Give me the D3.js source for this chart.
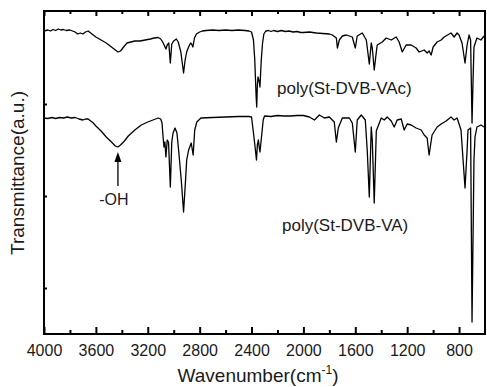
<!DOCTYPE html>
<html>
<head>
<meta charset="utf-8">
<script src="https://cdn.jsdelivr.net/npm/d3@7"></script>
<style>
  html, body { margin: 0; padding: 0; background: #fff; }
  svg { display: block; font-family: "Liberation Sans", Arial, sans-serif; }
</style>
</head>
<body>
<svg id="chart" width="487" height="387"></svg>
<script>
// wavenumber (cm-1) / transmittance (a.u.)
const vacWave = [4000, 3970, 3950, 3930, 3910, 3890, 3870, 3850, 3830, 3800, 3780, 3760, 3740, 3720, 3700, 3680, 3660, 3640, 3620, 3600,
  3560, 3520, 3480, 3450, 3430, 3410, 3380, 3360, 3330, 3300, 3260, 3220, 3180, 3150, 3120, 3100, 3085, 3070, 3060, 3050,
  3038, 3026, 3015, 3000, 2980, 2965, 2945, 2935, 2924, 2912, 2900, 2885, 2870, 2862, 2852, 2840, 2825, 2800, 2780, 2750,
  2700, 2650, 2600, 2550, 2500, 2450, 2420, 2400, 2385, 2375, 2365, 2360, 2355, 2350, 2340, 2335, 2325, 2315, 2305, 2290,
  2270, 2250, 2230, 2200, 2170, 2140, 2110, 2080, 2050, 2020, 2000, 1954, 1900, 1850, 1800, 1777, 1746, 1738, 1723, 1700,
  1669, 1623, 1600, 1585, 1546, 1515, 1492, 1477, 1469, 1454, 1438, 1431,
  1392, 1362, 1323, 1285, 1262, 1238, 1208, 1169, 1131, 1108, 1069, 1046, 1031, 1015, 1000, 969, 938, 915, 862, 838, 815, 800,
  777, 754, 738, 723, 711, 700, 692, 685, 662, 631, 608];
const vacT = [303, 304, 303, 304.5, 303.5, 305, 304, 304.5, 303.5, 304, 303, 302, 300, 301, 300, 302, 303, 301, 299, 297,
  294, 291, 287, 284, 282, 283, 288, 291, 292, 293, 293, 294, 295, 296, 296.5, 295, 292, 288, 285, 289,
  291, 271, 290, 293, 295, 292, 282, 272, 261, 274, 282, 287, 291, 290, 287, 296, 300, 302, 303, 303.5,
  304, 303.5, 304, 303.5, 304, 303.5, 303, 302, 294, 274, 239, 227, 249, 257, 252, 247, 274, 291, 300, 303,
  303.5, 302.5, 303.5, 302.5, 303.5, 302.5, 303, 302, 302.5, 301.5, 301.5, 302, 301, 300.5, 300, 299, 296, 286, 294, 298,
  299, 297, 286, 298, 301, 294, 270, 291, 286, 264, 282, 289,
  292, 296, 294, 297, 292, 282, 289, 289, 286, 282, 284, 281, 283, 279, 287, 292, 294, 297, 301, 297, 301, 299,
  291, 271, 289, 299, 294, 211, 254, 287, 296, 294, 298];

const vaWave = [4000, 3970, 3940, 3910, 3880, 3850, 3820, 3790, 3760, 3730, 3700, 3680, 3660, 3640, 3620, 3600, 3560, 3520, 3480, 3450,
  3430, 3410, 3380, 3350, 3300, 3250, 3200, 3160, 3120, 3100, 3090, 3082, 3075, 3068, 3060, 3050, 3040, 3026, 3015, 3005,
  2990, 2975, 2960, 2940, 2924, 2910, 2900, 2885, 2865, 2850, 2838, 2822, 2790, 2700, 2600, 2500, 2420, 2400, 2385, 2370,
  2362, 2355, 2347, 2340, 2335, 2320, 2310, 2300, 2250, 2200, 2150, 2100, 2050, 2000, 1954, 1915, 1877, 1838, 1800, 1762,
  1746, 1731, 1700, 1646, 1623, 1600, 1585, 1554, 1523, 1508, 1492, 1477, 1469, 1454,
  1438, 1400, 1377, 1354, 1323, 1300, 1277, 1246, 1223, 1200, 1169, 1131, 1092, 1069, 1046, 1031, 1008, 969, 938, 900, 862, 838, 815,
  785, 769, 754, 738, 731, 711, 700, 685, 677, 662, 631, 608];
const vaT = [216, 215.5, 216.5, 215.5, 216.5, 216, 217, 216, 216.5, 215, 214, 215, 215, 213, 211, 208, 203, 197, 192, 188,
  187, 189, 193, 198, 204, 209, 212, 214, 216, 215, 211, 197, 187, 192, 177, 194, 192, 147, 192, 201,
  206, 201, 181, 151, 122, 151, 174, 184, 191, 179, 204, 212, 216, 216.5, 217, 217.5, 217.5, 217, 201, 184,
  174, 189, 194, 186, 182, 201, 214, 218, 217.5, 218.5, 218, 218, 218.5, 218.5, 217, 214, 219, 216, 217, 212,
  192, 206, 216, 216, 211, 182, 214, 219, 214, 184, 137, 207, 194, 131,
  203, 216, 214, 217, 213, 207, 214, 215, 204, 210, 209, 206, 204, 199, 196, 179, 199, 207, 210, 213, 217, 214, 216,
  204, 174, 146, 184, 204, 206, 12, 174, 197, 207, 209, 207];

const majorTicks = [4000, 3600, 3200, 2800, 2400, 2000, 1600, 1200, 800];
const minorTicks = [3800, 3400, 3000, 2600, 2200, 1800, 1400, 1000];
const yTicks = [46, 138, 230];

const svg = d3.select('#chart');
const mLeft = 44, mRight = 485, mTop = 11, mBottom = 334;

const x = d3.scaleLinear().domain([4000, 600]).range([mLeft, mRight]);
const y = d3.scaleLinear().domain([0, 323]).range([mBottom, mTop]);

const line = d3.line()
  .x(d => x(d[0]))
  .y(d => y(d[1]));

const vac = d3.zip(vacWave, vacT);
const va = d3.zip(vaWave, vaT);

// spectra
[vac, va].forEach(s => {
  svg.append('path')
    .datum(s)
    .attr('fill', 'none')
    .attr('stroke', '#000')
    .attr('stroke-width', 1.3)
    .attr('stroke-linejoin', 'round')
    .attr('d', line);
});

// axes: bottom with labels, top ticks only, left small ticks
const gx = svg.append('g')
  .attr('transform', 'translate(0,' + mBottom + ')')
  .call(d3.axisBottom(x).tickValues(majorTicks).tickSize(-7).tickPadding(11).tickFormat(d3.format('d')));
svg.append('g')
  .attr('transform', 'translate(0,' + mBottom + ')')
  .call(d3.axisBottom(x).tickValues(minorTicks).tickSize(-4).tickFormat(''));
svg.append('g')
  .attr('transform', 'translate(0,' + mTop + ')')
  .call(d3.axisTop(x).tickValues(majorTicks).tickSize(-5).tickFormat(''));
svg.append('g')
  .attr('transform', 'translate(0,' + mTop + ')')
  .call(d3.axisTop(x).tickValues(minorTicks).tickSize(-3).tickFormat(''));
svg.append('g')
  .attr('transform', 'translate(' + mLeft + ',0)')
  .call(d3.axisLeft(y).tickValues(yTicks).tickSize(-3).tickFormat(''));

svg.selectAll('.domain').remove();
svg.selectAll('.tick line').attr('stroke', '#000').attr('stroke-width', 2);
gx.selectAll('.tick text')
  .attr('font-size', 16)
  .attr('fill', '#1a1a1a')
  .attr('font-family', '"Liberation Sans", Arial, sans-serif');

// frame
svg.append('rect')
  .attr('x', mLeft).attr('y', mTop)
  .attr('width', mRight - mLeft).attr('height', mBottom - mTop)
  .attr('fill', 'none')
  .attr('stroke', '#000')
  .attr('stroke-width', 2);

// labels
svg.append('text')
  .attr('x', 277).attr('y', 94)
  .attr('font-size', 17).attr('fill', '#1a1a1a')
  .text('poly(St-DVB-VAc)');
svg.append('text')
  .attr('x', 282).attr('y', 231)
  .attr('font-size', 17).attr('fill', '#1a1a1a')
  .text('poly(St-DVB-VA)');

// -OH arrow
const ax = x(3430);
svg.append('line')
  .attr('x1', ax).attr('x2', ax)
  .attr('y1', 186).attr('y2', 158)
  .attr('stroke', '#000').attr('stroke-width', 1.3);
svg.append('path')
  .attr('d', 'M' + ax + ',152 L' + (ax - 3.5) + ',162 L' + (ax + 3.5) + ',162 Z')
  .attr('fill', '#000');
svg.append('text')
  .attr('x', ax - 4).attr('y', 204.5)
  .attr('text-anchor', 'middle')
  .attr('font-size', 16).attr('fill', '#1a1a1a')
  .text('-OH');

// axis titles
svg.append('text')
  .attr('transform', 'translate(24,173) rotate(-90)')
  .attr('text-anchor', 'middle')
  .attr('font-size', 19).attr('fill', '#1a1a1a')
  .text('Transmittance(a.u.)');

const xt = svg.append('text')
  .attr('x', 258).attr('y', 382)
  .attr('text-anchor', 'middle')
  .attr('font-size', 19).attr('fill', '#1a1a1a');
xt.append('tspan').text('Wavenumber(cm');
xt.append('tspan').attr('font-size', 12).attr('dy', -8).text('-1');
xt.append('tspan').attr('dy', 8).text(')');
</script>
</body>
</html>
